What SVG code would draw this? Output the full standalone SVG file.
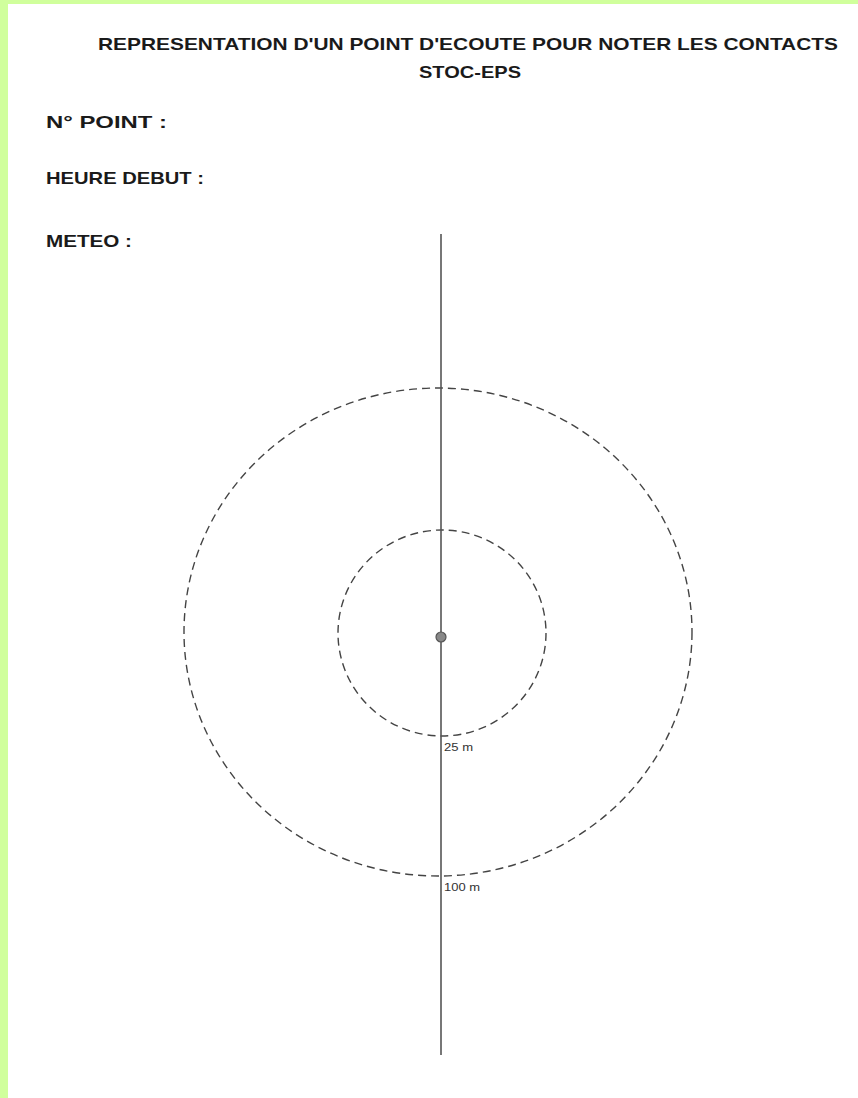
<svg xmlns="http://www.w3.org/2000/svg" width="858" height="1098" viewBox="0 0 858 1098">
<style>
.t{font-family:"Liberation Sans",Arial,sans-serif;font-weight:bold;font-size:17px;fill:#1a1a1a}
.s{font-family:"Liberation Sans",Arial,sans-serif;font-size:10px;fill:#333}
.ring{fill:none;stroke:#444;stroke-width:1.4;stroke-dasharray:8 5}
</style>
<rect width="858" height="1098" fill="#fff"/>
<rect x="0" y="0" width="858" height="4" fill="#d0ff9c"/>
<rect x="0" y="0" width="8" height="1098" fill="#d0ff9c"/>
<g id="title">
<text class="t" x="98" y="50" textLength="740" lengthAdjust="spacingAndGlyphs">REPRESENTATION D'UN POINT D'ECOUTE POUR NOTER LES CONTACTS</text>
<text class="t" x="419" y="78" textLength="102" lengthAdjust="spacingAndGlyphs">STOC-EPS</text>
</g>
<g id="fields">
<text class="t" x="46" y="128" textLength="121" lengthAdjust="spacingAndGlyphs">N° POINT :</text>
<text class="t" x="46" y="184" textLength="158" lengthAdjust="spacingAndGlyphs">HEURE DEBUT :</text>
<text class="t" x="46" y="247" textLength="86" lengthAdjust="spacingAndGlyphs">METEO :</text>
</g>
<g id="rings">
<ellipse id="ring100" class="ring" cx="438" cy="632" rx="254" ry="244"/>
<ellipse id="ring25" class="ring" cx="442" cy="633" rx="104" ry="103"/>
</g>
<g id="connectors">
<line x1="441" y1="234" x2="441" y2="1055" stroke="#555" stroke-width="1.6"/>
</g>
<g id="center">
<circle cx="441" cy="637" r="5" fill="#888" stroke="#555" stroke-width="1.2"/>
</g>
<g id="labels">
<text class="s" x="444" y="751" textLength="29" lengthAdjust="spacingAndGlyphs">25 m</text>
<text class="s" x="444" y="891" textLength="36" lengthAdjust="spacingAndGlyphs">100 m</text>
</g>
</svg>
